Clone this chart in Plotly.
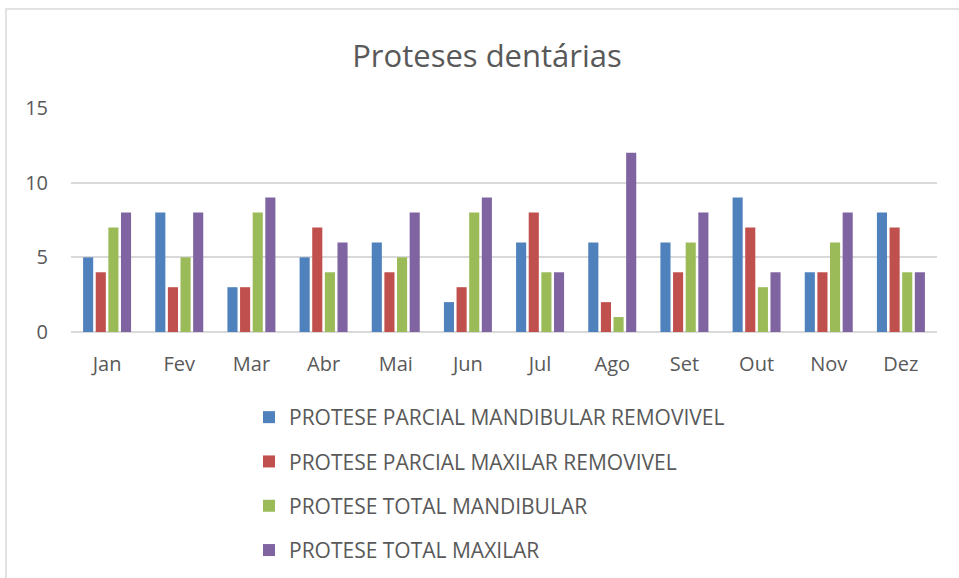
import plotly.graph_objects as go

months = ["Jan", "Fev", "Mar", "Abr", "Mai", "Jun", "Jul", "Ago", "Set", "Out", "Nov", "Dez"]
parcial_mandibular = [5, 8, 3, 5, 6, 2, 6, 6, 6, 9, 4, 8]
parcial_maxilar = [4, 3, 3, 7, 4, 3, 8, 2, 4, 7, 4, 7]
total_mandibular = [7, 5, 8, 4, 5, 8, 4, 1, 6, 3, 6, 4]
total_maxilar = [8, 8, 9, 6, 8, 9, 4, 12, 8, 4, 8, 4]

series_names = [
    "PROTESE PARCIAL MANDIBULAR REMOVIVEL",
    "PROTESE PARCIAL MAXILAR REMOVIVEL",
    "PROTESE TOTAL MANDIBULAR",
    "PROTESE TOTAL MAXILAR",
]
series_values = [parcial_mandibular, parcial_maxilar, total_mandibular, total_maxilar]
colors = ["#4F81BD", "#C0504D", "#9BBB59", "#8064A2"]

W, H = 959, 578
L, R, T, B = 71, 22, 108, 246
pw, ph = W - L - R, H - T - B

fig = go.Figure()
for i, (name, vals, col) in enumerate(zip(series_names, series_values, colors)):
    fig.add_trace(go.Bar(x=months, y=vals, name=name, marker_color=col,
                         marker_line_width=0, legendgroup=f"g{i}"))

def px_x(p):
    return (p - L) / pw

def px_y(p):
    return (H - B - p) / ph

FONT = "Open Sans, Calibri, sans-serif"

fig.update_layout(
    width=W, height=H,
    margin=dict(l=L, r=R, t=T, b=B, autoexpand=False),
    paper_bgcolor="white", plot_bgcolor="white",
    font=dict(family=FONT, color="#595959", size=20),
    title=dict(text="Proteses dentárias", x=487 / W, xref="container", xanchor="center",
               y=1 - 56 / H, yanchor="middle",
               font=dict(size=31, color="#595959")),
    barmode="group", bargap=0.3, bargroupgap=0.2,
    showlegend=True,
    legend=dict(orientation="v", x=px_x(249), xanchor="left", y=px_y(397), yanchor="top",
                traceorder="grouped", tracegroupgap=14,
                font=dict(size=21, color="#595959"), itemwidth=30),
    xaxis=dict(showgrid=False, showline=False, ticks="", tickfont=dict(size=20),
               ticklabelstandoff=18),
    yaxis=dict(range=[0, 15], dtick=5, showgrid=True, gridcolor="#D9D9D9", gridwidth=1.5,
               zeroline=True, zerolinecolor="#D9D9D9", zerolinewidth=1.5,
               showline=False, ticks="", ticklen=0, tickfont=dict(size=20),
               ticklabelstandoff=22),
    shapes=[dict(type="rect", xref="paper", yref="paper",
                 x0=px_x(6), x1=px_x(975), y0=px_y(9), y1=px_y(600),
                 line=dict(color="#D9D9D9", width=1.5), fillcolor="rgba(0,0,0,0)", layer="below")],
)

fig.write_html("out.html", config={"displayModeBar": False},
               post_script="document.body.style.margin='0';document.body.style.overflow='hidden';")
